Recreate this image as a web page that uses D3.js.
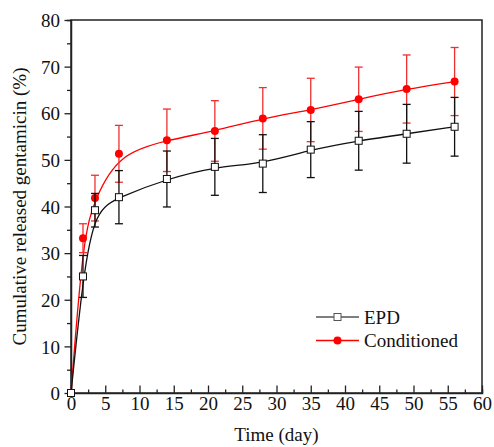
<!DOCTYPE html>
<html>
<head>
<meta charset="utf-8">
<script src="https://cdn.jsdelivr.net/npm/d3@7"></script>
<style>
  body { margin: 0; background: #fff; }
</style>
</head>
<body>
<script>
// release data
var days = [0, 1.75, 3.5, 7, 14, 21, 28, 35, 42, 49, 56];
var epd = [0, 25.0, 39.2, 42.0, 45.9, 48.5, 49.2, 52.2, 54.1, 55.6, 57.1];
var epdErr = [0, 4.5, 3.6, 5.7, 6.0, 6.1, 6.2, 6.0, 6.3, 6.3, 6.3];
var cond = [0, 33.2, 41.8, 51.3, 54.2, 56.2, 58.9, 60.7, 63.0, 65.2, 66.8];
var condErr = [0, 3.1, 4.9, 6.1, 6.7, 6.5, 6.6, 6.8, 6.9, 7.3, 7.3];
var xTicks = [0, 5, 10, 15, 20, 25, 30, 35, 40, 45, 50, 55, 60];
var yTicks = [0, 10, 20, 30, 40, 50, 60, 70, 80];

var W = 494, H = 447;
var margin = {top: 20, right: 12, bottom: 54, left: 71};
var FONT = "'Liberation Serif', 'Times New Roman', serif";
var FS = "19px";

var svg = d3.select("body").append("svg")
    .attr("width", W)
    .attr("height", H);

var x = d3.scaleLinear().domain([0, 60]).range([margin.left, W - margin.right]);
var y = d3.scaleLinear().domain([0, 80]).range([H - margin.bottom, margin.top]);

// frame
svg.append("rect")
    .attr("x", x(0)).attr("y", y(80))
    .attr("width", x(60) - x(0)).attr("height", y(0) - y(80))
    .attr("fill", "none").attr("stroke", "#222").attr("stroke-width", 1.5);

// x axis, ticks pointing in
var xAxis = svg.append("g")
    .attr("transform", "translate(0," + y(0) + ")");
xAxis.call(d3.axisBottom(x).tickValues(d3.range(0, 60.1, 2.5)).tickSize(-3.5).tickFormat(""));
xAxis.call(function(g) {
    var major = g.selectAll(".tick").filter(function(d) { return xTicks.indexOf(d) >= 0; });
    major.select("line").attr("y2", -7.5);
    major.append("text")
        .attr("y", 3).attr("dy", "0.71em")
        .attr("fill", "#111")
        .style("font-family", FONT)
        .style("font-size", FS)
        .attr("text-anchor", "middle")
        .text(function(d) { return d; });
});

// y axis, ticks pointing out
var yAxis = svg.append("g")
    .attr("transform", "translate(" + x(0) + ",0)");
yAxis.call(d3.axisLeft(y).tickValues(d3.range(0, 80.1, 5)).tickSize(4).tickFormat(""));
yAxis.call(function(g) {
    var major = g.selectAll(".tick").filter(function(d) { return yTicks.indexOf(d) >= 0; });
    major.select("line").attr("x2", -6.5);
    major.append("text")
        .attr("x", -11).attr("dy", "0.35em")
        .attr("fill", "#111")
        .style("font-family", FONT)
        .style("font-size", FS)
        .attr("text-anchor", "end")
        .text(function(d) { return d; });
});
svg.selectAll(".domain").attr("stroke", "#222").attr("stroke-width", 1.5);
svg.selectAll(".tick line").attr("stroke", "#222").attr("stroke-width", 1.3);

// axis titles
svg.append("text")
    .attr("x", (x(0) + x(60)) / 2).attr("y", 441)
    .attr("text-anchor", "middle")
    .style("font-family", FONT)
    .style("font-size", FS)
    .attr("fill", "#111")
    .text("Time (day)");

svg.append("text")
    .attr("transform", "translate(26," + (y(0) + y(80)) / 2 + ") rotate(-90)")
    .attr("text-anchor", "middle")
    .style("font-family", FONT)
    .style("font-size", FS)
    .attr("fill", "#111")
    .text("Cumulative released gentamicin (%)");

function drawSeries(vals, errs, color, errColor, marker) {
    var pts = days.map(function(d, i) { return {x: d, y: vals[i], e: errs[i]}; });
    var g = svg.append("g");

    g.append("path")
        .datum(pts)
        .attr("fill", "none")
        .attr("stroke", color)
        .attr("stroke-width", 1.3)
        .attr("d", d3.line()
            .x(function(d) { return x(d.x); })
            .y(function(d) { return y(d.y); })
            .curve(d3.curveBasis));

    var eb = g.selectAll(".err").data(pts.filter(function(d) { return d.e > 0; }))
        .enter().append("g");
    eb.append("line")
        .attr("x1", function(d) { return x(d.x); })
        .attr("x2", function(d) { return x(d.x); })
        .attr("y1", function(d) { return y(d.y - d.e); })
        .attr("y2", function(d) { return y(d.y + d.e); });
    eb.append("line")
        .attr("x1", function(d) { return x(d.x) - 4; })
        .attr("x2", function(d) { return x(d.x) + 4; })
        .attr("y1", function(d) { return y(d.y + d.e); })
        .attr("y2", function(d) { return y(d.y + d.e); });
    eb.append("line")
        .attr("x1", function(d) { return x(d.x) - 4; })
        .attr("x2", function(d) { return x(d.x) + 4; })
        .attr("y1", function(d) { return y(d.y - d.e); })
        .attr("y2", function(d) { return y(d.y - d.e); });
    eb.selectAll("line").attr("stroke", errColor).attr("stroke-width", 1.3);

    if (marker === "circle") {
        g.selectAll("circle").data(pts).enter().append("circle")
            .attr("cx", function(d) { return x(d.x); })
            .attr("cy", function(d) { return y(d.y); })
            .attr("r", 4)
            .attr("fill", color);
    } else {
        g.selectAll("rect.pt").data(pts).enter().append("rect")
            .attr("class", "pt")
            .attr("x", function(d) { return x(d.x) - 3.5; })
            .attr("y", function(d) { return y(d.y) - 3.5; })
            .attr("width", 7).attr("height", 7)
            .attr("fill", "#fff")
            .attr("stroke", color)
            .attr("stroke-width", 1);
    }
}

drawSeries(cond, condErr, "#ff0000", "#f03030", "circle");
drawSeries(epd, epdErr, "#111", "#111", "square");

// legend
var legendItems = [
    {name: "EPD", color: "#555", marker: "square"},
    {name: "Conditioned", color: "#ff0000", marker: "circle"}
];
var lg = svg.append("g").attr("transform", "translate(316,317)");
legendItems.forEach(function(it, i) {
    var row = lg.append("g").attr("transform", "translate(0," + (i * 23.5) + ")");
    row.append("line")
        .attr("x1", 0).attr("x2", 43)
        .attr("stroke", it.color).attr("stroke-width", 1.3);
    if (it.marker === "circle") {
        row.append("circle").attr("cx", 21.5).attr("r", 4).attr("fill", it.color);
    } else {
        row.append("rect").attr("x", 18).attr("y", -3.5)
            .attr("width", 7).attr("height", 7)
            .attr("fill", "#fff").attr("stroke", it.color);
    }
    row.append("text")
        .attr("x", 48).attr("dy", "0.35em")
        .style("font-family", FONT)
        .style("font-size", FS)
        .attr("fill", "#111")
        .text(it.name);
});
</script>
</body>
</html>
